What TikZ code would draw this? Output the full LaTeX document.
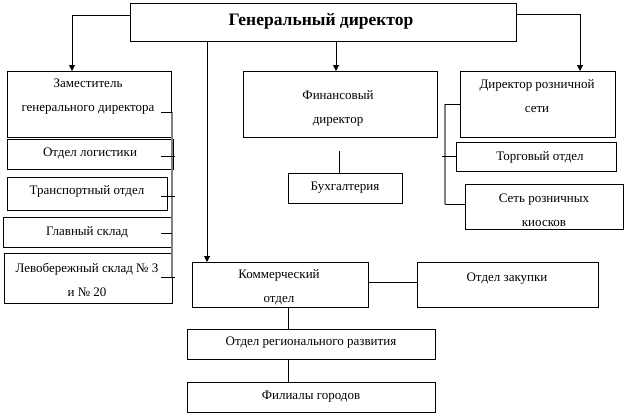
\documentclass[tikz,border=0pt]{standalone}
\usepackage{fontspec}
\setmainfont{Liberation Serif}
\usetikzlibrary{arrows.meta}
\tikzset{
  box/.style={draw,line width=1pt,inner sep=0pt,outer sep=0pt},
  txt/.style={inner sep=0pt,align=center,yshift=-1.5pt,font=\fontsize{13}{24}\selectfont},
  ttl/.style={inner sep=0pt,font=\fontsize{17.5}{20}\selectfont\bfseries},
  ln/.style={line width=1pt},
  br/.style={line width=1.4pt,gray},
  arr/.style={line width=1pt,-{Triangle[width=6pt,length=6pt]}}
}
\newcommand{\bx}[5]{\node[box,anchor=north west,minimum width=#4pt-#2pt,minimum height=#5pt-#3pt] (#1) at (#2,#3) {};}
\begin{document}
\begin{tikzpicture}[x=1pt,y=-1pt]
\useasboundingbox (0,0) rectangle (626,416);
% boxes
\bx{gen}{130}{3}{516}{41}
\bx{zam}{7}{71}{171}{137}
\bx{fin}{243}{71}{437}{137}
\bx{ret}{460}{71}{615}{137}
\bx{log}{7}{139}{173}{169}
\bx{tra}{7}{177}{167}{210}
\bx{gla}{3}{217}{171}{247}
\bx{lev}{4}{253}{172}{303}
\bx{buh}{288}{173}{402}{203}
\bx{tor}{456}{142}{616}{171}
\bx{set}{465}{184}{623}{229}
\bx{kom}{192}{262}{368}{307}
\bx{zak}{417}{262}{598}{307}
\bx{reg}{187}{329}{435}{359}
\bx{fil}{187}{382}{435}{412}
% texts
\node[ttl] (gen-t) at (321,21) {Генеральный директор};
\node[txt] (zam-t) at (88,95.5) {Заместитель\\генерального директора};
\node[txt] (fin-t) at (338,106.5) {Финансовый\\директор};
\node[txt] (ret-t) at (537,95) {Директор розничной\\сети};
\node[txt] (log-t) at (90,152) {Отдел логистики};
\node[txt] (tra-t) at (87,190) {Транспортный отдел};
\node[txt] (gla-t) at (87,231) {Главный склад};
\node[txt] (lev-t) at (87,278) {Левобережный склад № 3\\и № 20};
\node[txt] (buh-t) at (345,186) {Бухгалтерия};
\node[txt] (tor-t) at (540,156) {Торговый отдел};
\node[txt] (set-t) at (544,208.5) {Сеть розничных\\киосков};
\node[txt] (kom-t) at (279,285.5) {Коммерческий\\отдел};
\node[txt] (zak-t) at (507,277) {Отдел закупки};
\node[txt] (reg-t) at (311,341) {Отдел регионального развития};
\node[txt] (fil-t) at (311,395) {Филиалы городов};
% arrows from general director
\coordinate (zamin) at ([xshift=-17pt]zam.north);
\coordinate (finin) at ([xshift=-4pt]fin.north);
\coordinate (retin) at ([xshift=42.5pt]ret.north);
\coordinate (komin) at ([xshift=-73pt]kom.north);
\draw[arr] ([yshift=7pt]gen.west) -| (zamin);
\draw[arr] (gen.south -| finin) -- (finin);
\draw[arr] ([yshift=8pt]gen.east) -| (retin);
\draw[arr] (gen.south -| komin) -- (komin);
% left bracket
\coordinate (lbt) at (172,112);
\coordinate (lbb) at (172,277);
\draw[br] (lbt) -- (lbb);
\draw[ln] (161,112) -- (lbt);
\draw[ln] (161,156) -- (175,156);
\draw[ln] (161,196) -- (175,196);
\draw[ln] (161,233) -- (172,233);
\draw[ln] (161,277) -- (175,277);
% retail bracket
\coordinate (rbt) at (445,104);
\coordinate (rbb) at (445,204);
\draw[br] (rbt) -- (rbb);
\draw[ln] (rbt) -- (ret.west);
\draw[ln] (tor.west) -- ++(-14pt,0pt);
\draw[ln] (rbb) -- (rbb -| set.west);
% finance -> accounting
\draw[ln] ([xshift=-6pt]buh.north) -- ++(0pt,22pt);
% commercial
\coordinate (komout) at ([xshift=8pt]kom.south);
\draw[ln] ([yshift=2.5pt]kom.east) -- ([yshift=2.5pt]zak.west);
\draw[ln] (komout) -- (reg.north -| komout);
\draw[ln] (reg.south -| komout) -- (fil.north -| komout);
\end{tikzpicture}
\end{document}
